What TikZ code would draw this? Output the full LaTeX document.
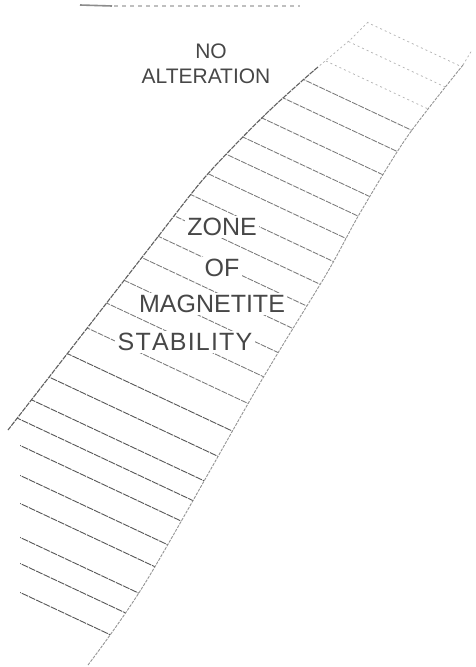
\documentclass[tikz,border=0pt]{standalone}
\usepackage{fontspec}
\setmainfont{Liberation Sans}
\begin{document}
\begin{tikzpicture}[x=1pt,y=-1pt,
  hatch/.style={draw=black!52,line width=0.85pt,dash pattern=on 6pt off 1.2pt},
  darkhatch/.style={draw=black!66,line width=0.9pt,dash pattern=on 7pt off 1pt},
  fainthatch/.style={draw=black!30,line width=0.7pt,dash pattern=on 2pt off 3pt},
  leftedge/.style={draw=black!62,line width=1.1pt,dash pattern=on 5pt off 1pt},
  rightedge/.style={draw=black!42,line width=0.9pt,dash pattern=on 3pt off 1.2pt},
  faintedge/.style={draw=black!30,line width=0.7pt,dash pattern=on 2pt off 2.5pt},
  lbl/.style={font=\fontsize{25}{25}\selectfont,text=black!72,fill=white,inner sep=2.5pt},
  lblsmall/.style={font=\fontsize{21}{21}\selectfont,text=black!72,inner sep=1pt}]
\useasboundingbox (0,0) rectangle (475,667);
\fill[white] (0,0) rectangle (475,667);
% scan smear at top
\draw[draw=black!45,line width=1.6pt] (80,5) -- (112,6);
\draw[draw=black!25,line width=1.1pt,dash pattern=on 4pt off 4pt] (114,6) -- (300,6);
% hatching
\begin{scope}
\clip plot[smooth] coordinates {(368,22)(350,40)(318,67)(303,80)(270,110)(235,145)(200,183)(150,247)(88,327)(8,430)} -- (20,440) -- (20,667) -- (88,667)
  -- plot[smooth] coordinates {(88,665)(147,580)(260,383)(327,273)(360,213)(407,137)(463,65)(472,50)} -- (472,22) -- cycle;
\foreach \c in {-150,-122,-92}
  \draw[fainthatch] (0,\c) -- (475,\c+223);
\foreach \c in {-63,-35,-5,23,48,76,105,134,162,191,222,253,287}
  \draw[hatch] (0,\c) -- (475,\c+223);
\foreach \c in {322,354,385,410,436,466,494,528,554,583}
  \draw[darkhatch] (0,\c) -- (475,\c+223);
\end{scope}
% band edges
\draw[leftedge] plot[smooth] coordinates {(318,67)(303,80)(270,110)(235,145)(200,183)(150,247)(88,327)(8,430)};
\draw[faintedge] (368,22) -- (350,40) -- (318,67);
\draw[rightedge] plot[smooth] coordinates {(88,665)(147,580)(260,383)(327,273)(360,213)(407,137)(463,65)};
\draw[faintedge] (463,65) -- (472,50);
% labels
\node[lblsmall] (no) at (211,51) {NO};
\node[lblsmall] (alt) at (206,76) {ALTERATION};
\node[lbl] (zone) at (222,227) {ZONE};
\node[lbl] (of) at (222,268) {OF};
\node[lbl] (mag) at (212,304) {MAGNETITE};
\node[lbl] (stab) at (185,342) {S\kern1.2pt T\kern1.2pt A\kern1.2pt B\kern1.2pt I\kern1.2pt L\kern1.2pt I\kern1.2pt T\kern1.2pt Y};
\end{tikzpicture}
\end{document}
